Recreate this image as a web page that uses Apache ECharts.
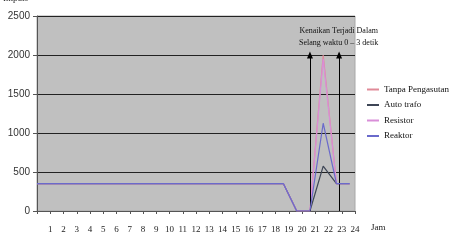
<!DOCTYPE html>
<html><head><meta charset="utf-8">
<script src="https://cdn.jsdelivr.net/npm/echarts@6/dist/echarts.min.js"></script>
<style>html,body{margin:0;padding:0;background:#fff}#c{width:453px;height:240px}</style>
</head><body><div id="c"></div>
<script>
var hours = [0, 18.6, 19.6, 20.6, 21.6, 22.6, 23.6];
var tanpa = [350, 350, 0, 0, 2000, 350, 350];
var autoTrafo = [350, 350, 0, 0, 575, 350, 350];
var resistor = [350, 350, 0, 0, 1950, 350, 350];
var reaktor = [350, 350, 0, 0, 1125, 350, 350];
var seriesNames = ['Tanpa Pengasutan', 'Auto trafo', 'Resistor', 'Reaktor'];
var xTicks = [1,2,3,4,5,6,7,8,9,10,11,12,13,14,15,16,17,18,19,20,21,22,23,24];
var arrowX = [20.6, 22.8];
var arrowTop = 2000;
var noteLines = ['Kenaikan Terjadi Dalam', 'Selang waktu 0 \u2013 3 detik'];

function pts(v){ return hours.map(function(h,i){ return [h, v[i]]; }); }
var colors = ['#e08a98', '#3e4656', '#d98ed8', '#6a6acb'];
var vals = [tanpa, autoTrafo, resistor, reaktor];
var series = seriesNames.map(function(n,i){
  return {name:n, type:'line', data:pts(vals[i]), symbol:'none', lineStyle:{width:1.2, color:colors[i]}, itemStyle:{color:colors[i]}, z: (i===3?5:3)};
});
series.push({
  type:'line', data:[], symbol:'none', silent:true,
  markLine:{silent:true, symbol:['none','triangle'], symbolSize:[6,7],
    lineStyle:{color:'#000', width:1, type:'solid'}, label:{show:false},
    data: arrowX.map(function(x){ return [{coord:[x,0]},{coord:[x,arrowTop]}]; })}
});
var chart = echarts.init(document.getElementById('c'));
chart.setOption({
  animation:false,
  backgroundColor:'#fff',
  grid:{left:37, right:98, top:16, bottom:29, show:true, backgroundColor:'#c0c0c0', borderColor:'#a8a8a8', borderWidth:1},
  xAxis:{type:'value', min:0, max:24, interval:1,
    axisLine:{lineStyle:{color:'#555'}}, axisTick:{show:true, length:3, lineStyle:{color:'#555'}},
    splitLine:{show:false},
    axisLabel:{margin:14, fontFamily:'Liberation Serif', fontSize:9, color:'#222',
      formatter:function(v){ return xTicks.indexOf(v)>=0 ? String(v) : ''; }}},
  yAxis:{type:'value', min:0, max:2500, interval:500,
    axisLine:{show:true, lineStyle:{color:'#555'}}, axisTick:{show:true, length:4, lineStyle:{color:'#555'}},
    splitLine:{show:true, lineStyle:{color:'#222', width:1}},
    axisLabel:{margin:7, fontFamily:'Liberation Sans', fontSize:10, color:'#333',
      formatter:function(v){ return String(v); }}},
  legend:{orient:'vertical', left:362, top:80, itemWidth:12, itemHeight:2, itemGap:6.5,
    icon:'rect',
    textStyle:{fontFamily:'Liberation Serif', fontSize:9, color:'#111'},
    data:seriesNames},
  graphic:[
    {type:'text', left:3, top:-6, style:{text:'Impuls', font:'9px Liberation Serif', fill:'#222'}},
    {type:'text', left:371, top:223, style:{text:'Jam', font:'9px Liberation Serif', fill:'#222'}},
    {type:'text', left:299, top:25, style:{text:noteLines.join('\n'), font:'8px Liberation Serif', fill:'#111', textAlign:'center', lineHeight:12}}
  ],
  series:series
});
</script></body></html>
